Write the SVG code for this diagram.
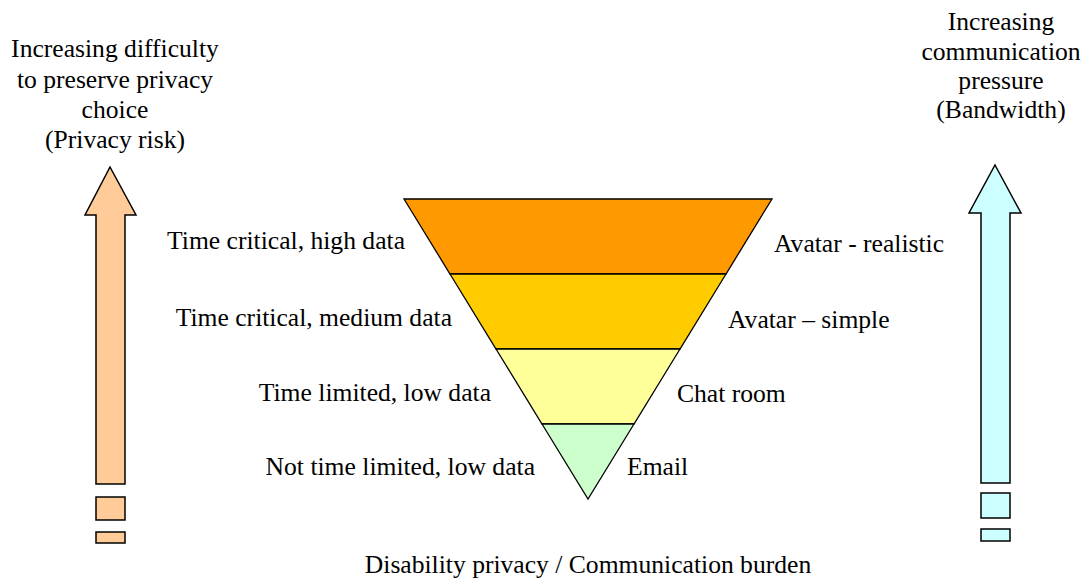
<svg xmlns="http://www.w3.org/2000/svg" width="1082" height="580" viewBox="0 0 1082 580" font-family="'Liberation Serif', 'Times New Roman', Times, 'DejaVu Serif', serif" font-size="25.6">
  <style>
    text { font-family: 'Liberation Serif', 'Times New Roman', Times, 'DejaVu Serif', serif; font-size: 25.6px; fill: #000; }
    .outline { stroke: #000; stroke-width: 1.5; stroke-linejoin: miter; }
    .band { stroke: #000; stroke-width: 1.3; }
    .end { text-anchor: end; }
    .mid { text-anchor: middle; }
  </style>

  <rect width="1082" height="580" fill="#fff"/>

  <!-- privacy risk scale on the left -->
  <g id="privacy-arrow">
    <polygon class="outline" fill="#FFCC99" points="110,167 136,215 125,215 125,484 96,484 96,215 85,215"/>
    <rect class="outline" fill="#FFCC99" x="96" y="497" width="29" height="23"/>
    <rect class="outline" fill="#FFCC99" x="96" y="532" width="29" height="11"/>
    <text class="mid" x="115" y="57">Increasing difficulty</text>
    <text class="mid" x="115" y="88">to preserve privacy</text>
    <text class="mid" x="115" y="118">choice</text>
    <text class="mid" x="115" y="148">(Privacy risk)</text>
  </g>

  <!-- bandwidth scale on the right -->
  <g id="bandwidth-arrow">
    <polygon class="outline" fill="#CCFFFF" points="995,165 1021,213 1010,213 1010,483 981,483 981,213 969,213"/>
    <rect class="outline" fill="#CCFFFF" x="981" y="493" width="29" height="25"/>
    <rect class="outline" fill="#CCFFFF" x="981" y="529" width="29" height="12"/>
    <text class="mid" x="1001" y="30">Increasing</text>
    <text class="mid" x="1001" y="60">communication</text>
    <text class="mid" x="1001" y="89">pressure</text>
    <text class="mid" x="1001" y="118">(Bandwidth)</text>
  </g>

  <!-- inverted pyramid of communication modes -->
  <g id="pyramid">
    <g id="band-realistic">
      <polygon class="band" fill="#FF9900" points="404,199 772,199 726,274 450,274"/>
      <text class="end" x="405" y="249">Time critical, high data</text>
      <text x="774" y="252">Avatar - realistic</text>
    </g>
    <g id="band-simple">
      <polygon class="band" fill="#FFCC00" points="450,274 726,274 680,349 496,349"/>
      <text class="end" x="452" y="326">Time critical, medium data</text>
      <text x="728" y="328">Avatar – simple</text>
    </g>
    <g id="band-chat">
      <polygon class="band" fill="#FFFF99" points="496,349 680,349 634,424 542,424"/>
      <text class="end" x="491" y="401">Time limited, low data</text>
      <text x="677" y="402">Chat room</text>
    </g>
    <g id="band-email">
      <polygon class="band" fill="#CCFFCC" points="542,424 634,424 588,499"/>
      <text class="end" x="535" y="475">Not time limited, low data</text>
      <text x="627" y="475">Email</text>
    </g>
  </g>

  <g id="connectors"/>

  <text id="caption" class="mid" x="588" y="573">Disability privacy / Communication burden</text>
</svg>
